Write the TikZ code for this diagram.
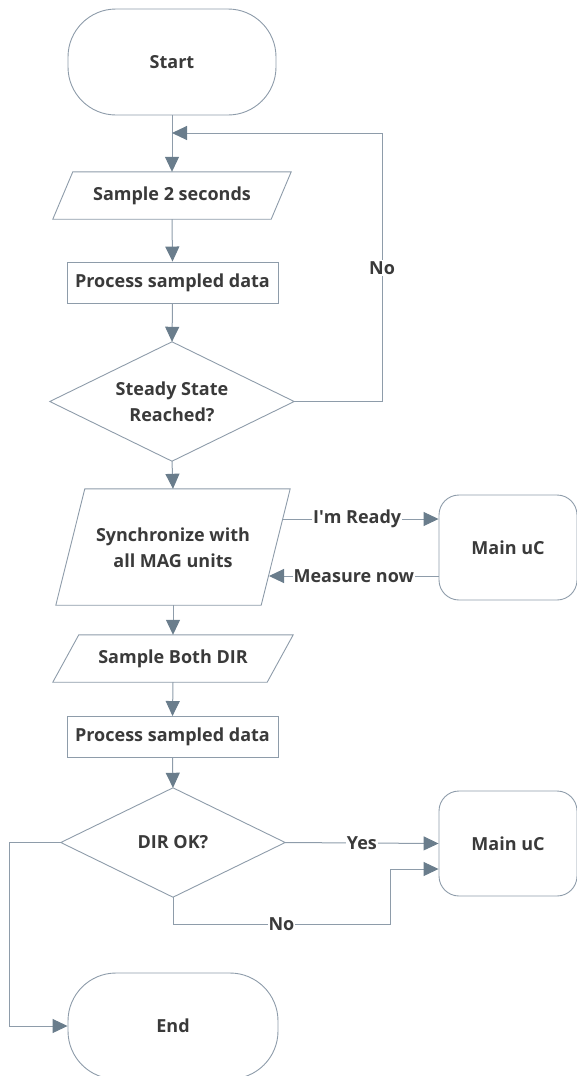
\documentclass[tikz,border=0pt]{standalone}
\usepackage{fontspec}
\setmainfont{Open Sans}
\usetikzlibrary{arrows.meta,calc}
\definecolor{edge}{HTML}{8E9CAA}
\definecolor{tip}{HTML}{6A7D8C}
\definecolor{txt}{HTML}{3A3A3A}
\tikzset{
  box/.style={draw=edge, line width=0.9pt, fill=white},
  lbl/.style={font=\fontsize{18}{22}\selectfont\bfseries, text=txt, align=center, inner sep=0pt},
  holder/.style={lbl, draw=none},
  conn/.style={draw=edge, line width=1pt, -{Triangle[length=15pt,width=14pt,color=tip]}},
  tag/.style={lbl, fill=white, inner sep=1pt}
}
\begin{document}
\begin{tikzpicture}[x=1pt,y=-1pt]
\useasboundingbox (0,0) rectangle (577,1076);
% Start / End
\node[box, lbl, rounded corners=48pt, minimum width=208pt, minimum height=106pt] (start) at (172,62) {Start};
\node[box, lbl, rounded corners=48pt, minimum width=210pt, minimum height=106pt] (end) at (173,1026) {End};
% Sample 2 seconds (parallelogram)
\node[holder, minimum width=218pt, minimum height=47pt] (s2) at (172,195.5) {};
\draw[box] ([xshift=10pt]s2.north west) -- ([xshift=10pt]s2.north east) -- ([xshift=-10pt]s2.south east) -- ([xshift=-10pt]s2.south west) -- cycle;
\node[lbl] at (s2) {Sample 2 seconds};
% Process 1
\node[box, lbl, minimum width=211pt, minimum height=41pt] (p1) at (172.5,282.5) {Process sampled data};
% Steady state diamond
\node[holder, minimum width=244pt, minimum height=119pt] (ss) at (172,401.5) {};
\draw[box] (ss.north) -- (ss.east) -- (ss.south) -- (ss.west) -- cycle;
\node[lbl] at (172,402) {Steady State\\[4pt]Reached?};
% Synchronize parallelogram
\node[holder, minimum width=205pt, minimum height=116pt] (sync) at (173,547) {};
\draw[box] ([xshift=14.5pt]sync.north west) -- ([xshift=14.5pt]sync.north east) -- ([xshift=-14.5pt]sync.south east) -- ([xshift=-14.5pt]sync.south west) -- cycle;
\node[lbl] at (173,548) {Synchronize with\\[4pt]all MAG units};
% Main uC 1
\node[box, lbl, rounded corners=20pt, minimum width=138pt, minimum height=105pt] (mu1) at (508,547.5) {Main uC};
% Sample Both DIR
\node[holder, minimum width=214pt, minimum height=47pt] (sb) at (173,658.5) {};
\draw[box] ([xshift=13pt]sb.north west) -- ([xshift=13pt]sb.north east) -- ([xshift=-13pt]sb.south east) -- ([xshift=-13pt]sb.south west) -- cycle;
\node[lbl] at (sb) {Sample Both DIR};
% Process 2
\node[box, lbl, minimum width=211pt, minimum height=41pt] (p2) at (172.5,737) {Process sampled data};
% DIR OK diamond
\node[holder, minimum width=224pt, minimum height=109pt] (dir) at (173,842.5) {};
\draw[box] (dir.north) -- (dir.east) -- (dir.south) -- (dir.west) -- cycle;
\node[lbl] at (dir) {DIR OK?};
% Main uC 2
\node[box, lbl, rounded corners=20pt, minimum width=138pt, minimum height=105pt] (mu2) at (508,843.5) {Main uC};

% helper coordinates
\coordinate (jn) at (172,133);
\coordinate (loopc) at (382,133);
\coordinate (syncR1) at (282,519);
\coordinate (syncR2) at (269,576);
\coordinate (mu1L2) at (mu1.west |- syncR2);
\coordinate (noA) at (173,924);
\coordinate (noB) at (390,924);
\coordinate (noC) at (390,869);
\coordinate (mu2L2) at (mu2.west |- noC);
\coordinate (lf) at (9,842.5);

% connectors
\draw[conn] (start.south) -- (s2.north);
\draw[conn] (ss.east) -| (loopc) -- (jn);
\node[tag] (nolbl) at (382,268) {No};
\draw[conn] (s2.south) -- (p1.north);
\draw[conn] (p1.south) -- (ss.north);
\draw[conn] (ss.south) -- (sync.north);
\draw[conn] (syncR1) -- node[tag, pos=0.48] {I\textquotesingle m Ready} (mu1.west |- syncR1);
\draw[conn] (mu1L2) -- node[tag, pos=0.5] {Measure now} (syncR2);
\draw[conn] (sync.south) -- (sb.north);
\draw[conn] (sb.south) -- (p2.north);
\draw[conn] (p2.south) -- (dir.north);
\draw[conn] (dir.east) -- node[tag, pos=0.5] {Yes} (mu2.west);
\draw[conn] (dir.south) -- (noA) -- node[tag, pos=0.5] {No} (noB) -- (noC) -- (mu2L2);
\draw[conn] (dir.west) -- (lf) |- (end.west);
\end{tikzpicture}
\end{document}
